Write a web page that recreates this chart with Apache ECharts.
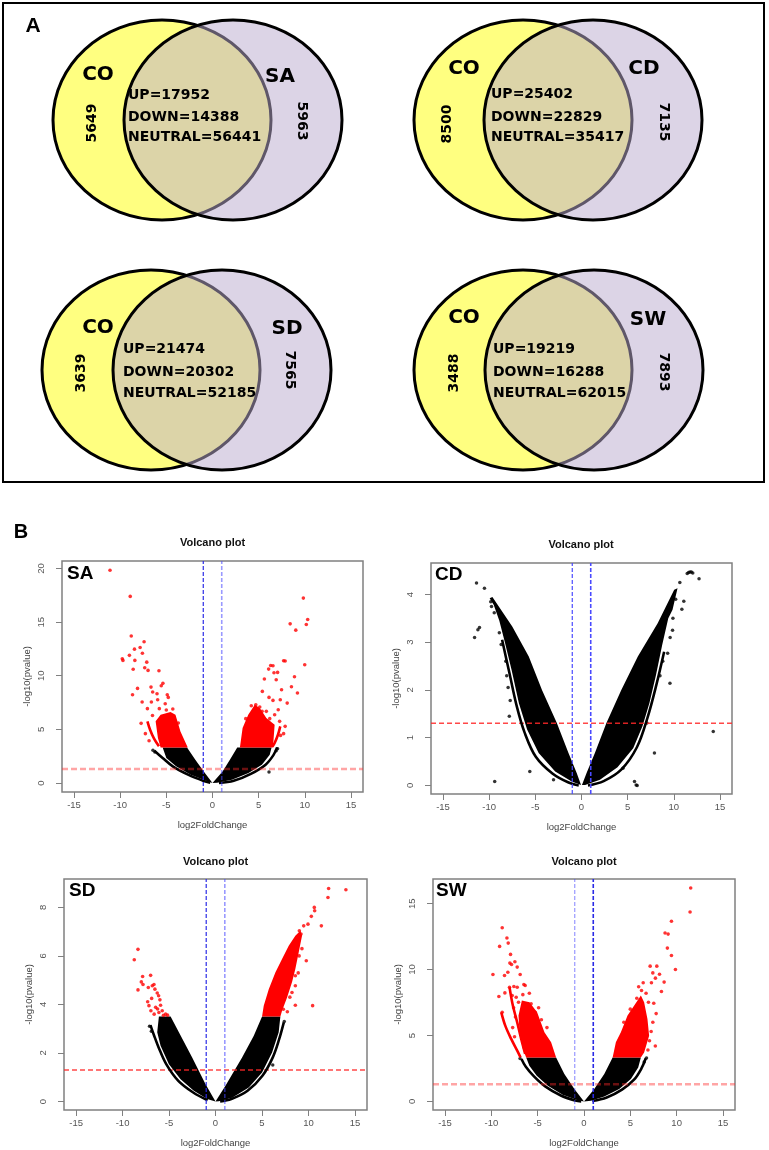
<!DOCTYPE html>
<html><head><meta charset="utf-8">
<script src="https://cdn.jsdelivr.net/npm/echarts@6/dist/echarts.min.js"></script>
<style>html,body{margin:0;padding:0;background:#fff}#c{width:769px;height:1150px}</style>
</head><body><div id="c"></div>
<script>
// ---------- Panel A data (Venn counts) ----------
const vennOther = ['SA', 'CD', 'SD', 'SW'];
const vennCOonly = [5649, 8500, 3639, 3488];
const vennOtherOnly = [5963, 7135, 7565, 7893];
const vennUp = [17952, 25402, 21474, 19219];
const vennDown = [14388, 22829, 20302, 16288];
const vennNeutral = [56441, 35417, 52185, 62015];

// ---------- Panel B data (volcano plots) ----------
const xTickVals = [-15, -10, -5, 0, 5, 10, 15];
const yTickSA = [0, 5, 10, 15, 20];
const yTickCD = [0, 1, 2, 3, 4];
const yTickSD = [0, 2, 4, 6, 8];
const yTickSW = [0, 5, 10, 15];
const pThreshold = 1.301;   // -log10(0.05)
const fcThreshold = [-1, 1];

// SA
const saMassL = [[0,0],[-0.97,1.09],[-1.86,2.17],[-2.76,3.32],[-5.4,3.32],[-5.0,2.33],[-3.95,1.55],[-2.35,0.78],[-0.7,0.2]];
const saMassR = [[0,0],[1.11,1.09],[1.9,2.2],[2.68,3.32],[6.4,3.32],[6.2,2.64],[5.35,1.71],[3.9,0.93],[2.1,0.31],[0.5,0.03]];
const saArcL = [[-6.3,3.01],[-5.4,2.33],[-4.3,1.55],[-2.65,0.78],[-0.95,0.19],[-0.25,0.03]];
const saArcR = [[7.0,3.32],[6.6,2.6],[5.75,1.71],[4.15,0.85],[2.3,0.2],[0.7,0]];
const saRedMassL = [[-2.68,3.32],[-3.47,4.81],[-4.01,6.37],[-4.55,6.61],[-5.62,6.37],[-6.16,5.75],[-5.91,4.19],[-5.62,3.32]];
const saRedMassR = [[2.97,3.32],[3.26,5.12],[3.87,6.37],[4.58,7.3],[5.12,6.99],[5.83,6.06],[6.73,5.43],[6.55,3.32]];
const saRedArcL = [[-7.05,5.75],[-6.76,4.97],[-6.33,4.13],[-5.8,3.42]];
const saRedArcR = [[7.34,5.28],[7.09,4.5],[6.73,3.73],[6.48,3.39]];
const saRedPts = [[-11.1,19.84],[-8.91,17.4],[-8.8,13.7],[-7.41,13.17],[-7.84,12.64],[-8.45,12.48],[-7.59,12.1],[-9.0,11.9],[-9.77,11.58],[-9.7,11.43],[-8.41,11.43],[-7.12,11.27],[-7.34,10.75],[-8.59,10.6],[-6.98,10.5],[-5.8,10.47],[-5.37,9.29],[-5.55,9.07],[-6.66,8.94],[-8.12,8.82],[-6.48,8.48],[-6.01,8.32],[-4.9,8.23],[-8.66,8.23],[-4.79,7.98],[-5.94,7.76],[-6.62,7.55],[-7.62,7.55],[-5.12,7.39],[-7.05,6.93],[-5.76,6.93],[-7.73,5.56],[-7.27,4.6],[-6.87,3.94],[-4.3,6.9],[-5.0,6.8],[-3.7,5.6],[-6.5,6.3],
  [9.84,17.24],[10.31,15.25],[10.16,14.78],[8.41,14.84],[9.02,14.25],[9.99,11.02],[8.88,9.91],[8.55,8.98],[9.2,8.39],[7.7,11.4],[7.87,11.37],[6.3,10.96],[6.55,10.93],[6.08,10.62],[6.66,10.28],[7.05,10.31],[5.62,9.69],[6.9,9.63],[7.48,8.7],[5.4,8.54],[6.12,7.98],[6.55,7.7],[7.34,7.76],[8.09,7.45],[4.69,7.3],[5.12,7.08],[5.37,6.68],[5.83,6.68],[6.73,6.37],[7.12,6.83],[7.27,5.75],[7.87,5.28],[7.7,4.6],[7.37,4.44],[4.2,7.2],[3.6,6.0],[6.2,6.0]];
const saBlackPts = [[6.12,1.02],[-6.45,3.05],[-6.25,2.9],[7.05,3.2],[6.9,3.0]];

// CD
const cdMassL = [[-0.05,0.01],[-1.06,0.08],[-2.85,0.29],[-4.64,0.68],[-5.89,1.17],[-6.78,1.72],[-7.57,2.42],[-8.3,3.0],[-8.9,3.45],[-9.5,3.78],[-9.95,3.92],[-9.65,3.95],[-7.5,3.33],[-5.71,2.7],[-4.28,2.0],[-2.67,1.31],[-1.41,0.68],[-0.52,0.26]];
const cdMassR = [[0.05,0.01],[0.55,0.26],[1.45,0.68],[2.7,1.31],[4.31,2.0],[6.1,2.7],[8.25,3.4],[10.04,4.1],[10.4,4.13],[9.86,3.68],[9.4,3.5],[8.75,2.95],[8.05,2.3],[7.35,1.72],[6.6,1.24],[5.6,0.78],[3.9,0.38],[2.0,0.12],[0.4,0.01]];
const cdArcL = [[-8.6,3.05],[-7.8,2.35],[-7.0,1.65],[-6.15,1.1],[-4.95,0.6],[-3.15,0.25],[-1.4,0.06],[-0.3,0]];
const cdArcR = [[8.95,2.8],[8.1,2.1],[7.15,1.42],[6.0,0.8],[4.3,0.33],[2.4,0.09],[0.7,0]];
const cdBlackPts = [[-11.37,4.24],[-10.51,4.13],[-11.58,3.1],[-11.22,3.26],[-11.05,3.31],[-9.4,0.08],[-5.6,0.29],[-3.03,0.12],[-7.82,1.45],[-7.72,1.78],[-9.83,3.85],[-9.75,3.75],[-9.45,3.62],[-8.9,3.2],[-8.7,2.95],[-8.2,2.6],[-8.1,2.3],[-7.95,2.05],
  [11.45,4.44],[11.6,4.46],[11.75,4.47],[11.9,4.47],[12.05,4.45],[12.73,4.33],[10.65,4.25],[11.08,3.86],[10.87,3.69],[9.58,2.14],[14.27,1.13],[7.9,0.68],[4.49,0.36],[5.74,0.08],[5.92,0.01],[6.03,0.0],[9.86,3.25],[9.33,2.77],[9.9,3.5],[10.2,3.9],[9.6,3.1],[8.8,2.6],[8.5,2.3],[7.08,1.31]];

// SD
const sdMassL = [[0,0],[-1.07,0.71],[-2.51,1.81],[-3.94,2.85],[-4.83,3.5],[-6.09,3.5],[-6.27,2.85],[-5.91,2.3],[-5.01,1.54],[-3.76,0.92],[-2.33,0.44],[-0.9,0.1]];
const sdMassR = [[0,0],[1.07,0.65],[2.86,1.81],[4.12,2.71],[5.01,3.5],[6.98,3.5],[6.8,2.85],[6.09,2.02],[5.01,1.2],[3.58,0.58],[1.79,0.16],[0.36,0.01]];
const sdArcL = [[-7.0,3.15],[-6.6,2.71],[-6.12,2.23],[-5.3,1.54],[-4.0,0.85],[-2.4,0.37],[-0.85,0.05]];
const sdArcR = [[7.35,3.26],[6.85,2.57],[6.15,1.81],[5.05,1.06],[3.45,0.44],[1.7,0.1],[0.5,0]];
const sdRedMassR = [[5.01,3.5],[5.19,3.95],[5.73,4.63],[6.44,5.32],[7.16,5.87],[7.88,6.42],[8.59,6.83],[9.13,7.04],[9.31,6.83],[8.95,6.14],[8.59,5.46],[8.23,4.91],[7.7,4.29],[7.16,3.74],[6.98,3.5]];
const sdRedPts = [[-8.34,6.27],[-8.74,5.84],[-7.84,5.15],[-6.98,5.2],[-7.98,4.93],[-8.34,4.6],[-7.8,4.82],[-7.23,4.7],[-6.8,4.77],[-6.62,4.82],[-6.52,4.63],[-6.27,4.47],[-6.12,4.36],[-7.3,4.11],[-7.16,3.95],[-6.95,3.74],[-6.44,3.88],[-6.23,3.81],[-5.91,3.97],[-6.09,3.67],[-5.73,3.74],[-5.37,3.6],[-5.16,3.56],[-6.87,4.25],[-5.98,4.19],[-6.6,3.6],[-5.6,3.55],
  [12.17,8.78],[14.03,8.73],[12.1,8.41],[10.63,8.0],[10.67,7.86],[10.31,7.63],[11.39,7.24],[9.95,7.31],[9.49,7.24],[9.02,7.04],[9.77,5.8],[8.59,5.18],[8.59,4.77],[10.45,3.95],[8.59,3.97],[7.73,3.7],[8.23,4.49],[9.2,6.9],[8.9,6.6],[8.7,6.3],[9.0,6.0],[8.4,5.9],[8.0,5.6],[8.9,5.3],[7.6,5.0],[8.0,4.3],[7.3,3.8],[9.3,6.3]];
const sdBlackPts = [[6.16,1.5],[-7.1,3.1],[-6.9,2.9],[7.4,3.3]];

// SW
const swMassL = [[0,0],[-1.04,0.94],[-2.12,2.08],[-3.01,3.34],[-6.24,3.34],[-5.9,2.71],[-5.1,1.95],[-3.9,1.19],[-2.3,0.51],[-0.75,0.1]];
const swMassR = [[0,0],[1.11,0.94],[2.19,2.08],[3.09,3.34],[6.14,3.34],[5.85,2.58],[5.06,1.7],[3.8,0.94],[2.19,0.38],[0.75,0.05]];
const swArcL = [[-6.75,3.22],[-6.3,2.65],[-5.4,1.9],[-4.15,1.12],[-2.5,0.45],[-0.95,0.07],[-0.3,0]];
const swArcR = [[6.67,3.27],[6.2,2.5],[5.4,1.65],[4.1,0.9],[2.45,0.3],[0.9,0.03]];
const swRedMassL = [[-3.01,3.34],[-3.55,4.48],[-4.27,5.24],[-5.06,6.76],[-5.88,7.52],[-6.71,7.65],[-7.07,6.51],[-6.96,5.24],[-6.6,3.98],[-6.24,3.34]];
const swRedMassR = [[3.09,3.34],[3.44,4.48],[3.98,5.24],[4.7,6.51],[5.42,7.27],[6.14,8.03],[6.49,7.52],[6.85,6.26],[7.03,4.99],[6.49,3.72],[6.14,3.34]];
const swRedArcL1 = [[-8.93,6.76],[-8.5,5.75],[-7.86,4.74],[-7.21,3.85],[-6.85,3.34]];
const swRedArcL2 = [[-8.04,8.66],[-7.68,7.27],[-7.21,6.0],[-6.78,4.74],[-6.35,3.6]];
const swRedPts = [[-8.83,13.17],[-8.32,12.39],[-8.18,12.01],[-9.11,11.76],[-7.93,11.15],[-8.0,10.49],[-7.82,10.39],[-7.46,10.59],[-7.21,10.19],[-9.83,9.63],[-8.58,9.55],[-8.22,9.8],[-6.89,9.63],[-8.04,8.66],[-7.57,8.72],[-7.21,8.66],[-6.49,8.87],[-6.35,8.79],[-9.19,7.96],[-8.54,8.23],[-7.75,8.03],[-7.32,7.9],[-7.07,7.52],[-6.21,7.4],[-5.71,7.4],[-5.27,6.76],[-8.83,6.76],[-7.6,7.1],[-6.6,8.1],[-5.9,8.2],[-4.9,7.1],[-4.6,6.2],[-7.4,6.4],[-7.7,5.6],[-7.5,4.9],[-4.0,5.6],
  [11.52,16.19],[11.45,14.37],[9.44,13.66],[8.75,12.77],[9.08,12.69],[9.0,11.63],[9.44,11.07],[9.87,10.01],[7.14,10.26],[7.86,10.26],[7.43,9.75],[8.15,9.65],[7.71,9.35],[7.28,9.0],[8.65,9.05],[8.36,8.34],[6.39,9.0],[6.21,8.41],[5.7,7.83],[6.96,7.52],[7.53,7.45],[7.79,6.66],[7.43,6.0],[7.25,5.3],[7.07,4.6],[6.9,3.9],[6.71,5.5],[5.9,8.7],[5.0,7.0],[4.3,6.0],[6.7,8.2],[7.7,4.2]];
const swBlackPts = [[-6.9,3.25],[6.75,3.3],[6.5,3.0]];

// ---------- layout ----------
const X_RANGE = [-16.3, 16.3];
const plots = [
  {name:'SA', grid:{left:62, top:561, width:301, height:231}, y:[-0.84,20.7], ticks:yTickSA, title:[212.5,543], lab:[67,574],
   redTop:true, vcol:['#2a2ae6','rgba(70,70,255,0.55)'],
   mass:[saMassL, saMassR], arcs:[saArcL, saArcR], blackPts:saBlackPts, redMass:[saRedMassL, saRedMassR], redArcs:[saRedArcL, saRedArcR], redPts:saRedPts},
  {name:'CD', grid:{left:431, top:563, width:301, height:231}, y:[-0.18,4.66], ticks:yTickCD, title:[581,545], lab:[435,575],
   redTop:false, vcol:['#4a4aff','#4a4aff'],
   mass:[cdMassL, cdMassR], arcs:[cdArcL, cdArcR], blackPts:cdBlackPts, redMass:[], redArcs:[], redPts:[]},
  {name:'SD', grid:{left:64, top:879, width:303, height:231}, y:[-0.35,9.17], ticks:yTickSD, title:[215.5,862], lab:[69,891],
   redTop:false, vcol:['#2a2ae6','rgba(70,70,255,0.55)'],
   mass:[sdMassL, sdMassR], arcs:[sdArcL, sdArcR], blackPts:sdBlackPts, redMass:[sdRedMassR], redArcs:[], redPts:sdRedPts},
  {name:'SW', grid:{left:433, top:879, width:302, height:231}, y:[-0.65,16.87], ticks:yTickSW, title:[584,862], lab:[436,891],
   redTop:true, vcol:['rgba(70,70,255,0.55)','#2a2ae6'],
   mass:[swMassL, swMassR], arcs:[swArcL, swArcR], blackPts:swBlackPts, redMass:[swRedMassL, swRedMassR], redArcs:[swRedArcL1, swRedArcL2], redPts:swRedPts}
];

const FONT = '"Liberation Sans", Arial, sans-serif';
const grids = [], xAxes = [], yAxes = [], series = [], graphics = [];

function poly(gi, pts, color) {
  return {type:'custom', xAxisIndex:gi, yAxisIndex:gi, data:pts, clip:true, silent:true, animation:false,
    encode:{x:0, y:1},
    renderItem:function(params, api){
      if (params.dataIndex !== 0) return null;
      return {type:'polygon', shape:{points: pts.map(p => api.coord(p))}, style:{fill:color}};
    }};
}
function curve(gi, pts, color, w) {
  return {type:'line', xAxisIndex:gi, yAxisIndex:gi, data:pts, smooth:0.35, symbol:'none', silent:true, animation:false,
    lineStyle:{color:color, width:w}};
}
function dots(gi, pts, color, s) {
  return {type:'scatter', xAxisIndex:gi, yAxisIndex:gi, data:pts, symbolSize:s, silent:true, animation:false,
    itemStyle:{color:color}};
}
function refLine(gi, pts, color, w, dash) {
  return {type:'line', xAxisIndex:gi, yAxisIndex:gi, data:pts, symbol:'none', silent:true, animation:false,
    lineStyle:{color:color, width:w, type:dash}};
}

plots.forEach((p, gi) => {
  grids.push(Object.assign({show:true, borderColor:'#808080', borderWidth:1.5, backgroundColor:'#fff', containLabel:false}, p.grid));
  xAxes.push({type:'value', gridIndex:gi, min:X_RANGE[0], max:X_RANGE[1], position:'bottom',
    name:'log2FoldChange', nameLocation:'middle', nameGap:28,
    nameTextStyle:{fontFamily:FONT, fontSize:9.5, color:'#444'},
    axisLine:{show:false, onZero:false}, splitLine:{show:false},
    axisTick:{show:true, inside:false, length:6, customValues:xTickVals, lineStyle:{color:'#808080', width:1}},
    axisLabel:{show:true, customValues:xTickVals, margin:8, fontFamily:FONT, fontSize:9.5, color:'#555'}});
  yAxes.push({type:'value', gridIndex:gi, min:p.y[0], max:p.y[1], position:'left',
    name:'-log10(pvalue)', nameLocation:'middle', nameGap:30, nameRotate:90,
    nameTextStyle:{fontFamily:FONT, fontSize:9.5, color:'#444'},
    axisLine:{show:false, onZero:false}, splitLine:{show:false},
    axisTick:{show:true, inside:false, length:6, customValues:p.ticks, lineStyle:{color:'#808080', width:1}},
    axisLabel:{show:true, customValues:p.ticks, rotate:90, margin:16, fontFamily:FONT, fontSize:9.5, color:'#555'}});

  const hline = [[X_RANGE[0], pThreshold],[X_RANGE[1], pThreshold]];
  if (!p.redTop) series.push(refLine(gi, hline, 'rgba(255,40,40,0.85)', 1.6, [5,3]));
  p.mass.forEach(m => series.push(poly(gi, m, '#000')));
  p.arcs.forEach(a => series.push(curve(gi, a, '#000', 2.6)));
  series.push(dots(gi, p.blackPts, '#000', 3.5));
  p.redMass.forEach(m => series.push(poly(gi, m, '#ff0000')));
  p.redArcs.forEach(a => series.push(curve(gi, a, '#ff0000', 2.6)));
  series.push(dots(gi, p.redPts, '#ff0000', 3.6));
  if (p.redTop) series.push(refLine(gi, hline, 'rgba(255,40,40,0.42)', 2.6, [6,3]));
  fcThreshold.forEach((fc, k) => {
    series.push(refLine(gi, [[fc, p.y[0]],[fc, p.y[1]]], p.vcol[k], k === 0 ? 1.2 : 1.6, [4,2]));
  });

  graphics.push({type:'text', x:p.title[0], y:p.title[1], z:10,
    style:{text:'Volcano plot', font:'bold 11px ' + FONT, fill:'#111', align:'center', verticalAlign:'middle'}});
  graphics.push({type:'text', x:p.lab[0], y:p.lab[1], z:10,
    style:{text:p.name, font:'bold 19px ' + FONT, fill:'#000', align:'left', verticalAlign:'middle'}});
});

// ---------- Panel A graphics ----------
const VFONT = '"DejaVu Sans", Verdana, sans-serif';
const vennLayout = [
  {l:[162,120], r:[233,120], co:[98,75], ot:[280,77], tx:128, ty:[95,117,137], a:[92,123], b:[302,121]},
  {l:[523,120], r:[593,120], co:[464,69], ot:[644,69], tx:491, ty:[94,117,137], a:[447,124], b:[664,122]},
  {l:[151,370], r:[222,370], co:[98,328], ot:[287,329], tx:123, ty:[349,372,393], a:[81,373], b:[290,370]},
  {l:[523,370], r:[594,370], co:[464,318], ot:[648,320], tx:493, ty:[349,372,393], a:[454,373], b:[664,372]}
];
graphics.push({type:'rect', shape:{x:3, y:3, width:761, height:479}, style:{fill:'none', stroke:'#000', lineWidth:2}});
graphics.push({type:'text', x:33, y:26, style:{text:'A', font:'bold 21px ' + FONT, fill:'#000', align:'center', verticalAlign:'middle'}});
graphics.push({type:'text', x:21, y:532, style:{text:'B', font:'bold 20px ' + FONT, fill:'#000', align:'center', verticalAlign:'middle'}});
vennLayout.forEach((v, i) => {
  graphics.push({type:'ellipse', shape:{cx:v.l[0], cy:v.l[1], rx:109, ry:100}, style:{fill:'#ffff80', stroke:'#000', lineWidth:3}});
  graphics.push({type:'ellipse', shape:{cx:v.r[0], cy:v.r[1], rx:109, ry:100}, style:{fill:'rgba(186,171,206,0.51)', stroke:'#000', lineWidth:3}});
  const t = (x, y, text, font, align, rot) => graphics.push({type:'text', x:x, y:y, rotation:rot || 0, z:5,
    style:{text:text, font:font, fill:'#000', align:align, verticalAlign:'middle'}});
  t(v.co[0], v.co[1], 'CO', 'bold 20px ' + VFONT, 'center');
  t(v.ot[0], v.ot[1], vennOther[i], 'bold 20px ' + VFONT, 'center');
  t(v.tx, v.ty[0], 'UP=' + vennUp[i], 'bold 14px ' + VFONT, 'left');
  t(v.tx, v.ty[1], 'DOWN=' + vennDown[i], 'bold 14px ' + VFONT, 'left');
  t(v.tx, v.ty[2], 'NEUTRAL=' + vennNeutral[i], 'bold 14px ' + VFONT, 'left');
  t(v.a[0], v.a[1], String(vennCOonly[i]), 'bold 14px ' + VFONT, 'center', Math.PI / 2);
  t(v.b[0], v.b[1], String(vennOtherOnly[i]), 'bold 14px ' + VFONT, 'center', -Math.PI / 2);
});

const chart = echarts.init(document.getElementById('c'), null, {renderer:'canvas'});
chart.setOption({
  animation:false,
  backgroundColor:'#fff',
  grid:grids, xAxis:xAxes, yAxis:yAxes, series:series,
  graphic:{elements:graphics}
});
</script>
</body></html>
